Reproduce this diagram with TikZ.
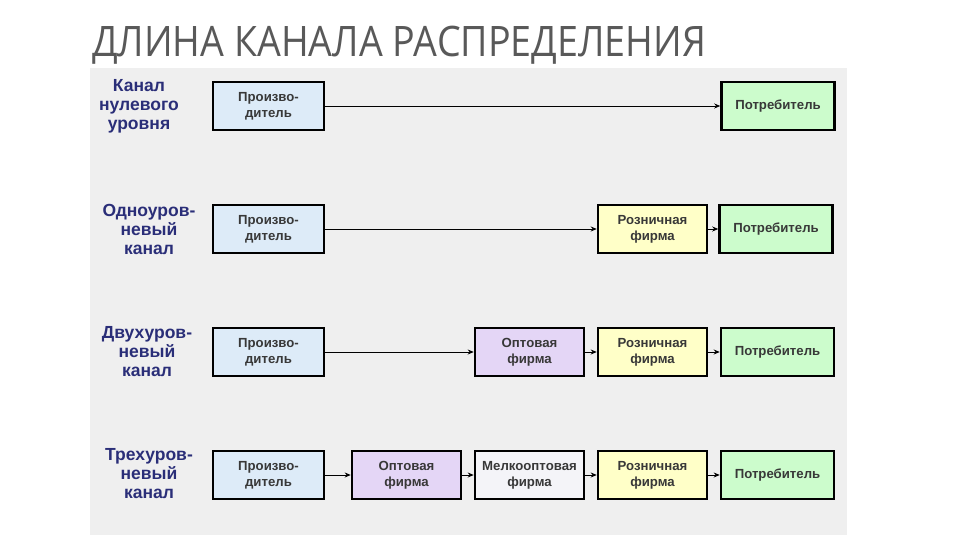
\documentclass[tikz,border=0pt]{standalone}
\usepackage{fontspec}
\setmainfont{Liberation Sans}
\newfontfamily\titlefont{Open Sans}
\usetikzlibrary{arrows.meta}
\definecolor{panel}{HTML}{EFEFEF}
\definecolor{prodc}{HTML}{DDEBF8}
\definecolor{optc}{HTML}{E4D6F6}
\definecolor{rozc}{HTML}{FFFFC8}
\definecolor{conc}{HTML}{CCFCCC}
\definecolor{melc}{HTML}{F4F4F8}
\definecolor{lblc}{HTML}{2A2E78}
\definecolor{boxtxt}{HTML}{383838}
\definecolor{titlec}{HTML}{595959}
\tikzset{
  x=1pt,y=-1pt,
  chbox/.style={draw=black,line width=2.6pt,minimum height=48pt,inner sep=0pt,
    font=\bfseries\fontsize{13.2}{16}\selectfont,text=boxtxt,align=center},
  prod/.style={chbox,fill=prodc,minimum width=111pt},
  opt/.style={chbox,fill=optc,minimum width=109pt},
  roz/.style={chbox,fill=rozc,minimum width=109pt},
  con/.style={chbox,fill=conc,minimum width=113pt},
  mel/.style={chbox,fill=melc,minimum width=109pt},
  rowlbl/.style={font=\bfseries\fontsize{17.5}{19}\selectfont,text=lblc,align=center},
  flow/.style={draw=black,line width=0.8pt,-{Stealth[length=6pt,width=5pt]}}
}
\begin{document}
\begin{tikzpicture}
\useasboundingbox (0,0) rectangle (960,540);
\fill[white] (0,0) rectangle (960,540);
\fill[panel] (90,68) rectangle (847,535);
\node[anchor=base west,inner sep=0pt,text=titlec,xscale=0.895,font=\titlefont\fontsize{42}{48}\selectfont] (title) at (92,57) {ДЛИНА КАНАЛА РАСПРЕДЕЛЕНИЯ};
% row labels
\node[rowlbl] (l1) at (139,106) {Канал\\нулевого\\уровня};
\node[rowlbl] (l2) at (149,229) {Одноуров-\\невый\\канал};
\node[rowlbl] (l3) at (147,352) {Двухуров-\\невый\\канал};
\node[rowlbl] (l4) at (149,474) {Трехуров-\\невый\\канал};
% row 1
\node[prod] (p1) at (268.5,106) {Произво-\\дитель};
\node[con] (c1) at (778,106) {Потребитель};
\draw[flow] (p1) -- (c1);
% row 2
\node[prod] (p2) at (268.5,229) {Произво-\\дитель};
\node[roz] (r2) at (652.5,229) {Розничная\\фирма};
\node[con] (c2) at (776,229) {Потребитель};
\draw[flow] (p2) -- (r2);
\draw[flow] (r2) -- (c2);
% row 3
\node[prod] (p3) at (268.5,352) {Произво-\\дитель};
\node[opt] (o3) at (529.5,352) {Оптовая\\фирма};
\node[roz] (r3) at (652.5,352) {Розничная\\фирма};
\node[con] (c3) at (777.5,352) {Потребитель};
\draw[flow] (p3) -- (o3);
\draw[flow] (o3) -- (r3);
\draw[flow] (r3) -- (c3);
% row 4
\node[prod] (p4) at (268.5,475) {Произво-\\дитель};
\node[opt] (o4) at (406.5,475) {Оптовая\\фирма};
\node[mel] (m4) at (529.5,475) {Мелкооптовая\\фирма};
\node[roz] (r4) at (652.5,475) {Розничная\\фирма};
\node[con] (c4) at (777.5,475) {Потребитель};
\draw[flow] (p4) -- (o4);
\draw[flow] (o4) -- (m4);
\draw[flow] (m4) -- (r4);
\draw[flow] (r4) -- (c4);
\end{tikzpicture}
\end{document}
